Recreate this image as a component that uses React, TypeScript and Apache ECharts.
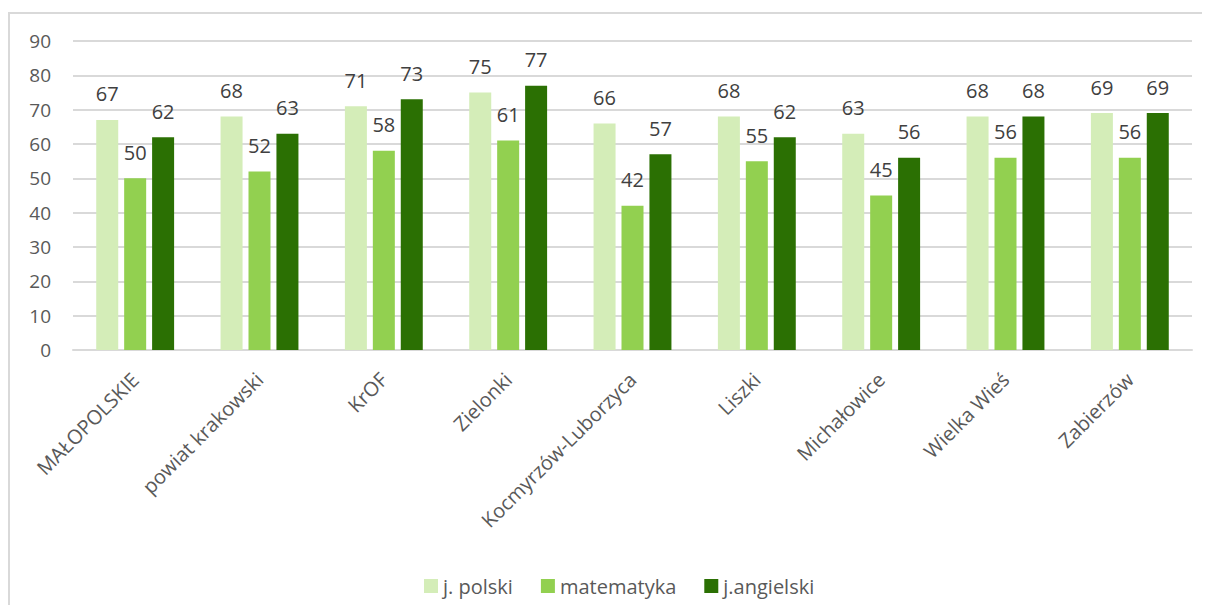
import React, { useEffect, useRef } from "react";
import * as echarts from "echarts";

const categories = [
  "MAŁOPOLSKIE",
  "powiat krakowski",
  "KrOF",
  "Zielonki",
  "Kocmyrzów-Luborzyca",
  "Liszki",
  "Michałowice",
  "Wielka Wieś",
  "Zabierzów",
];
const polski = [67, 68, 71, 75, 66, 68, 63, 68, 69];
const matematyka = [50, 52, 58, 61, 42, 55, 45, 56, 56];
const angielski = [62, 63, 73, 77, 57, 62, 56, 68, 69];
const seriesNames = ["j. polski", "matematyka", "j.angielski"];
const colors = ["#d4edb8", "#92d050", "#2b7003"];

const FONT = "'Open Sans', sans-serif";

export default function App() {
  const ref = useRef<HTMLDivElement>(null);
  useEffect(() => {
    document.documentElement.style.overflow = "hidden";
    if (!ref.current) return;
    const chart = echarts.init(ref.current, undefined, { renderer: "svg" });
    const mk = (name: string, data: number[], color: string) => ({
      name,
      type: "bar",
      data,
      barWidth: 22,
      barGap: "27%",
      itemStyle: { color },
      label: {
        show: true,
        position: "top",
        distance: 16,
        color: "#404040",
        fontSize: 20,
        fontFamily: FONT,
      },
    });
    chart.setOption({
      animation: false,
      textStyle: { fontFamily: FONT },
      grid: { left: 65, top: 33, width: 1119, height: 309, containLabel: false },
      legend: {
        left: 411,
        top: 563,
        itemWidth: 14,
        itemHeight: 14,
        itemGap: 28,
        icon: "rect",
        textStyle: { color: "#595959", fontSize: 20, fontFamily: FONT },
        data: seriesNames,
      },
      xAxis: {
        type: "category",
        data: categories,
        axisLine: { lineStyle: { color: "#d9d9d9", width: 2 } },
        axisTick: { show: false },
        axisLabel: {
          rotate: 45,
          color: "#595959",
          fontSize: 20,
          fontFamily: FONT,
          margin: 26,
          interval: 0,
        },
      },
      yAxis: {
        type: "value",
        min: 0,
        max: 90,
        interval: 10,
        axisLine: { show: false },
        axisTick: { show: false },
        splitLine: { lineStyle: { color: "#d9d9d9", width: 2 } },
        axisLabel: { color: "#595959", fontSize: 19, fontFamily: FONT, margin: 22 },
      },
      series: [
        mk(seriesNames[0], polski, colors[0]),
        mk(seriesNames[1], matematyka, colors[1]),
        mk(seriesNames[2], angielski, colors[2]),
      ],
    });
    return () => chart.dispose();
  }, []);
  return (
    <div style={{ position: "relative", width: 1202, height: 597 }}>
      <div
        style={{
          position: "absolute",
          left: 0,
          top: 4,
          width: 1202,
          height: 2,
          background: "#d9d9d9",
        }}
      />
      <div
        style={{
          position: "absolute",
          left: 0,
          top: 4,
          width: 2,
          height: 601,
          background: "#d9d9d9",
        }}
      />
      <div ref={ref} style={{ position: "absolute", left: 0, top: 0, width: 1202, height: 597 }} />
    </div>
  );
}
